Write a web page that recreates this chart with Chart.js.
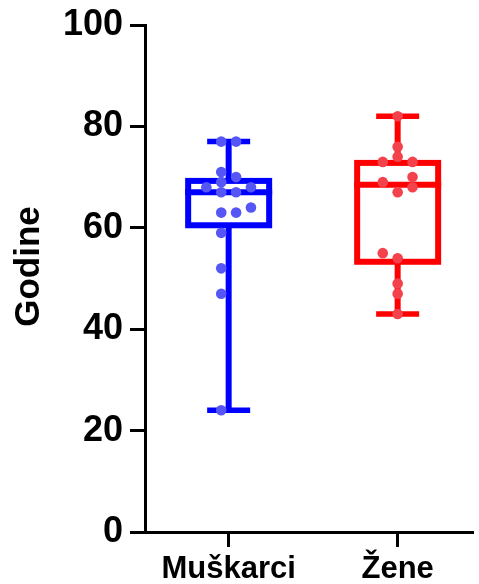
<!DOCTYPE html>
<html>
<head>
<meta charset="utf-8">
<script src="https://cdn.jsdelivr.net/npm/chart.js@4.4.1/dist/chart.umd.min.js"></script>
<style>
  html, body { margin: 0; padding: 0; background: #ffffff; }
  #wrap { width: 479px; height: 584px; }
</style>
</head>
<body>
<div id="wrap"><canvas id="chart" width="479" height="584"></canvas></div>
<script>
// Age by sex: box plots with individual observations
const categories = ['Muškarci', 'Žene'];
const axisTitle = 'Godine';

const menAges   = [77, 77, 71, 70, 69, 68, 68, 67, 67, 64, 63, 63, 59, 52, 47, 24];
const womenAges = [82, 76, 74, 73, 73, 70, 69, 68, 67, 55, 54, 49, 47, 43];

// side-by-side slot for points that share a similar value (beeswarm columns)
const menSlots   = [-0.5, 0.5, -0.5, 0.5, -0.5, -1.5, 1.5, -0.5, 0.5, 1.5, -0.5, 0.5, -0.5, -0.5, -0.5, -0.5];
const womenSlots = [0, 0, 0, -1, 1, 1, -1, 1, 0, -1, 0, 0, 0, 0];

// box statistics per group
const whiskerMin = [24, 43];
const quartile1  = [60.5, 53.3];
const medians    = [67, 68.5];
const quartile3  = [69.25, 72.8];
const whiskerMax = [77, 82];

const yTicks = [0, 20, 40, 60, 80, 100];

const lineColors  = ['#0000ff', '#ff0000'];
const pointColors = ['#5656f6', '#f4424d'];

const FAMILY = "'Liberation Sans', Arial, sans-serif";
const SLOT = 0.088;

function toPoints(ages, slots, group) {
  return ages.map((v, i) => ({ x: group + 1 + slots[i] * SLOT, y: v }));
}

const boxPlugin = {
  id: 'boxes',
  beforeDatasetsDraw(chart) {
    const { ctx, scales: { x, y } } = chart;
    const half = 40.5, cap = 21.5;
    ctx.save();
    categories.forEach((c, i) => {
      const cx = x.getPixelForValue(i + 1);
      ctx.strokeStyle = lineColors[i];
      ctx.lineCap = 'butt';
      // whisker
      ctx.lineWidth = 6;
      ctx.beginPath();
      ctx.moveTo(cx, y.getPixelForValue(whiskerMax[i]));
      ctx.lineTo(cx, y.getPixelForValue(quartile3[i]));
      ctx.moveTo(cx, y.getPixelForValue(quartile1[i]));
      ctx.lineTo(cx, y.getPixelForValue(whiskerMin[i]));
      ctx.stroke();
      // caps
      ctx.lineWidth = 5.5;
      ctx.beginPath();
      [whiskerMax[i], whiskerMin[i]].forEach(v => {
        const py = y.getPixelForValue(v);
        ctx.moveTo(cx - cap, py);
        ctx.lineTo(cx + cap, py);
      });
      ctx.stroke();
      // box
      ctx.lineWidth = 6;
      const top = y.getPixelForValue(quartile3[i]);
      const bot = y.getPixelForValue(quartile1[i]);
      ctx.strokeRect(cx - half, top, half * 2, bot - top);
      // median
      const my = y.getPixelForValue(medians[i]);
      ctx.beginPath();
      ctx.moveTo(cx - half - 3, my);
      ctx.lineTo(cx + half + 3, my);
      ctx.stroke();
    });
    ctx.restore();
  }
};

// rotated y-axis title, placed slightly above the middle of the plot
const titlePlugin = {
  id: 'yTitle',
  afterDraw(chart) {
    const { ctx, chartArea } = chart;
    ctx.save();
    ctx.translate(39, (chartArea.top + chartArea.bottom) / 2 - 12);
    ctx.rotate(-Math.PI / 2);
    ctx.font = `bold 35px ${FAMILY}`;
    ctx.fillStyle = '#000';
    ctx.textAlign = 'center';
    ctx.textBaseline = 'alphabetic';
    ctx.fillText(axisTitle, 0, 0);
    ctx.restore();
  }
};

new Chart(document.getElementById('chart'), {
  type: 'scatter',
  data: {
    datasets: [
      { label: categories[0], data: toPoints(menAges, menSlots, 0),
        pointRadius: 5.3, pointBackgroundColor: pointColors[0], pointBorderWidth: 0 },
      { label: categories[1], data: toPoints(womenAges, womenSlots, 1),
        pointRadius: 5.3, pointBackgroundColor: pointColors[1], pointBorderWidth: 0 }
    ]
  },
  options: {
    responsive: false,
    animation: false,
    layout: { padding: { top: 25, right: 0, left: 0, bottom: 0 } },
    plugins: { legend: { display: false }, tooltip: { enabled: false } },
    scales: {
      x: {
        type: 'linear',
        min: 0.505,
        max: 2.45,
        afterBuildTicks(scale) { scale.ticks = [{ value: 1 }, { value: 2 }]; },
        afterFit(scale) { scale.height = 52; scale.paddingLeft = 0; scale.paddingRight = 0; },
        grid: { drawOnChartArea: false, drawTicks: true, tickLength: 15, tickWidth: 3, tickColor: '#000' },
        border: { display: true, width: 3, color: '#000' },
        ticks: {
          color: '#000', font: { family: FAMILY, size: 31, weight: 'bold' }, padding: 4, maxRotation: 0,
          callback: v => categories[v - 1]
        }
      },
      y: {
        min: 0,
        max: 100,
        afterBuildTicks(scale) { scale.ticks = yTicks.map(v => ({ value: v })); },
        afterFit(scale) { scale.width = 145; scale.paddingTop = 0; scale.paddingBottom = 0; },
        grid: { drawOnChartArea: false, drawTicks: true, tickLength: 15, tickWidth: 3, tickColor: '#000' },
        border: { display: true, width: 3, color: '#000' },
        ticks: { color: '#000', font: { family: FAMILY, size: 36, weight: 'bold' }, padding: 7 }
      }
    }
  },
  plugins: [boxPlugin, titlePlugin]
});
</script>
</body>
</html>
